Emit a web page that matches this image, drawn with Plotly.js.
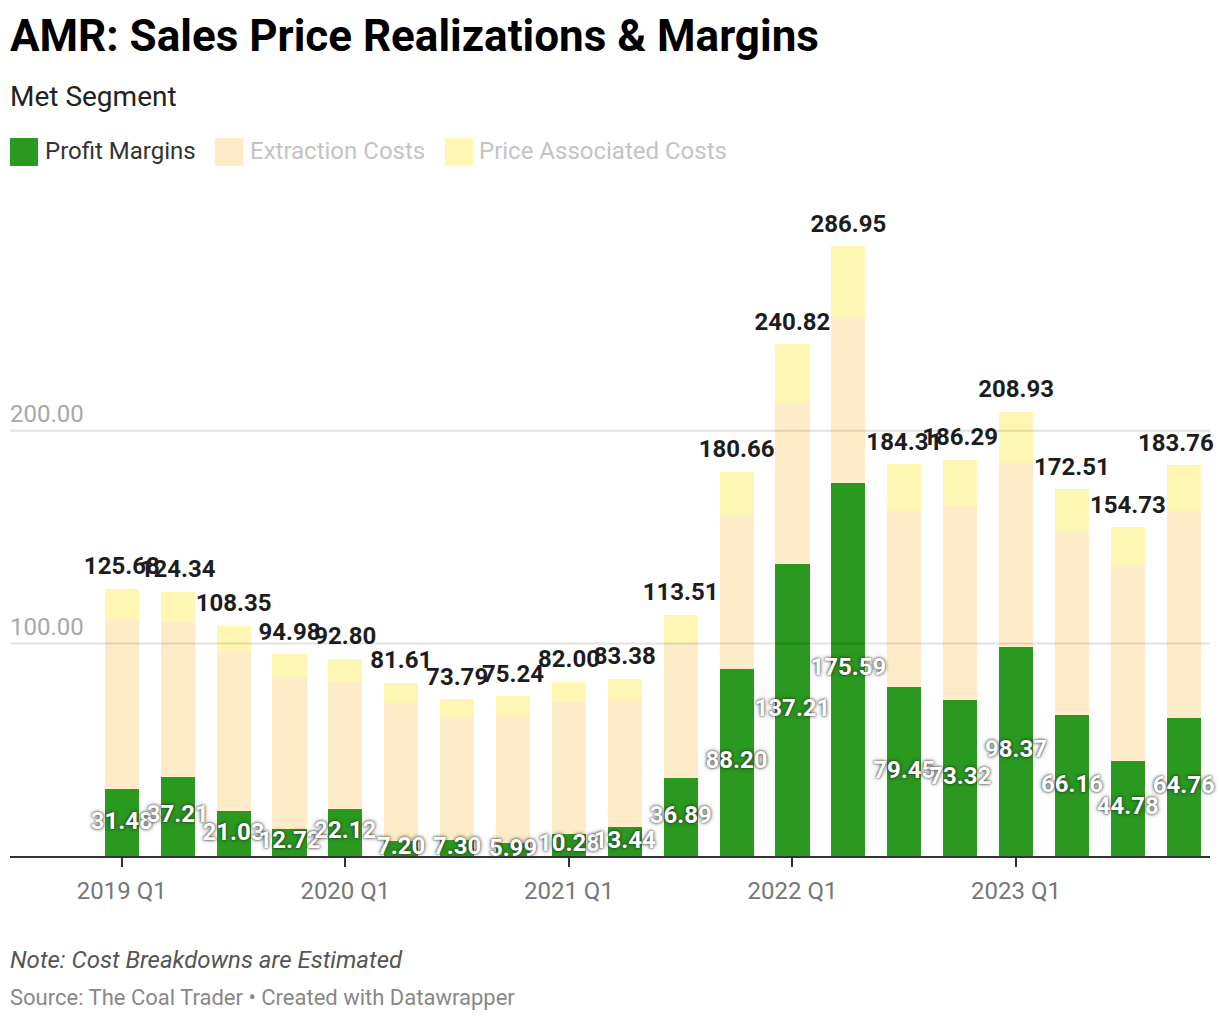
<!DOCTYPE html>
<html>
<head>
<meta charset="utf-8">
<script src="https://cdn.plot.ly/plotly-3.0.1.min.js"></script>
<style>
  html, body { margin: 0; padding: 0; background: #ffffff; }
  #chart { width: 1220px; height: 1020px; }
</style>
</head>
<body>
<div id="chart"></div>
<script>
// ---- Data ----
const quarters = [
  "2019 Q1","2019 Q2","2019 Q3","2019 Q4",
  "2020 Q1","2020 Q2","2020 Q3","2020 Q4",
  "2021 Q1","2021 Q2","2021 Q3","2021 Q4",
  "2022 Q1","2022 Q2","2022 Q3","2022 Q4",
  "2023 Q1","2023 Q2","2023 Q3","2023 Q4"
];
const profitMargins = [31.48, 37.21, 21.03, 12.72, 22.12, 7.20, 7.30, 5.99, 10.28, 13.44,
                       36.89, 88.20, 137.21, 175.59, 79.45, 73.32, 98.37, 66.16, 44.78, 64.76];
const extractionCosts = [79.52, 73.09, 74.97, 71.38, 59.78, 64.80, 58.00, 60.31, 62.22, 60.46,
                         63.31, 71.70, 75.79, 77.91, 83.05, 91.28, 86.33, 86.44, 92.12, 97.44];
const priceAssociatedCosts = [14.68, 14.04, 12.35, 10.88, 10.90, 9.61, 8.49, 8.94, 9.50, 9.48,
                              13.31, 20.76, 27.82, 33.45, 21.81, 21.69, 24.23, 19.91, 17.83, 21.56];
const totals = [125.68, 124.34, 108.35, 94.98, 92.80, 81.61, 73.79, 75.24, 82.00, 83.38,
                113.51, 180.66, 240.82, 286.95, 184.31, 186.29, 208.93, 172.51, 154.73, 183.76];
const xTickLabels = ["2019 Q1","2020 Q1","2021 Q1","2022 Q1","2023 Q1"];
const yTickValues = [100, 200];
const yTickLabels = ["100.00", "200.00"];
const seriesNames = ["Profit Margins", "Extraction Costs", "Price Associated Costs"];

// ---- Styles ----
const GREEN = "#2a991f";
const PEACH = "#feebc7";
const YELLOW = "#fef7b3";
const FONT = "Roboto, 'Noto Sans', sans-serif";

// Layout geometry (pixels)
const W = 1220, H = 1020;
const M = { l: 10, r: 10, t: 197, b: 164 };
const plotW = W - M.l - M.r, plotH = H - M.t - M.b;
const px2x = px => (px - M.l) / plotW;
const py2y = py => (H - M.b - py) / plotH;

const fmt = v => v.toFixed(2);
const last = totals.length - 1;
// the last total label is drawn as an annotation nudged left so it stays inside the frame
const totalText = totals.map((v, i) => i === last ? "" : fmt(v));
const TOTAL_FONT = { family: FONT, size: 24, color: "#1d1d1d", weight: 700 };

const traces = [
  {
    type: "bar", name: seriesNames[0], x: quarters, y: profitMargins,
    marker: { color: GREEN, line: { width: 0 } }, showlegend: false, hoverinfo: "skip"
  },
  {
    type: "bar", name: seriesNames[1], x: quarters, y: extractionCosts,
    marker: { color: PEACH, line: { width: 0 } }, showlegend: false, hoverinfo: "skip"
  },
  {
    type: "bar", name: seriesNames[2], x: quarters, y: priceAssociatedCosts,
    marker: { color: YELLOW, line: { width: 0 } }, showlegend: false, hoverinfo: "skip"
  },
  // total labels
  {
    type: "scatter", mode: "markers+text", x: quarters, y: totals,
    marker: { size: 12, color: "rgba(0,0,0,0)" },
    text: totalText, textposition: "top center",
    textfont: TOTAL_FONT,
    showlegend: false, hoverinfo: "skip", cliponaxis: false
  },
  // profit labels (centered in green segment)
  {
    type: "scatter", mode: "text", x: quarters, y: profitMargins.map(v => v / 2),
    text: profitMargins.map(fmt), textposition: "middle center",
    textfont: { family: FONT, size: 24, color: "#ffffff", weight: 700,
                shadow: "0px 0px 2px rgba(40,40,40,0.9), 0px 0px 4px rgba(40,40,40,0.7)" },
    showlegend: false, hoverinfo: "skip", cliponaxis: false
  }
];

// Legend (drawn manually to match the square swatches)
const legendItems = [
  { sw: 10, tx: 43, color: GREEN, tc: "#333333" },
  { sw: 215, tx: 248, color: PEACH, tc: "#c4c4c4" },
  { sw: 445, tx: 477, color: YELLOW, tc: "#c4c4c4" }
];
const shapes = legendItems.map(it => ({
  type: "rect", xref: "paper", yref: "paper",
  x0: px2x(it.sw), x1: px2x(it.sw + 28), y0: py2y(166), y1: py2y(138),
  fillcolor: it.color, line: { width: 0 }
}));
// gridlines drawn above the bars, as in the reference
yTickValues.forEach(v => shapes.push({
  type: "line", xref: "paper", yref: "y", x0: 0, x1: 1, y0: v, y1: v,
  layer: "above", line: { color: "rgba(0,0,0,0.11)", width: 2 }
}));

const annotations = [
  { text: "<b>AMR: Sales Price Realizations & Margins</b>", x: px2x(8), y: py2y(36),
    font: { family: FONT, size: 44, color: "#000000" } },
  { text: "Met Segment", x: px2x(8), y: py2y(97),
    font: { family: FONT, size: 28, color: "#222222" } },
  ...legendItems.map((it, i) => ({
    text: seriesNames[i], x: px2x(it.tx), y: py2y(151),
    font: { family: FONT, size: 24, color: it.tc }
  })),
  { text: "<i>Note: Cost Breakdowns are Estimated</i>", x: px2x(8), y: py2y(960),
    font: { family: FONT, size: 24, color: "#555555" } },
  { text: "Source: The Coal Trader • Created with Datawrapper", x: px2x(8), y: py2y(997),
    font: { family: FONT, size: 22, color: "#888888" } }
].map(a => Object.assign({ xref: "paper", yref: "paper", xanchor: "left", yanchor: "middle",
                           showarrow: false, align: "left" }, a));

annotations.push({
  xref: "x", yref: "y", x: quarters[last], y: totals[last],
  text: "<b>" + fmt(totals[last]) + "</b>", font: TOTAL_FONT,
  xanchor: "center", yanchor: "middle", xshift: -8, yshift: 22,
  showarrow: false
});

const layout = {
  width: W, height: H,
  margin: M,
  paper_bgcolor: "#ffffff", plot_bgcolor: "#ffffff",
  font: { family: FONT },
  barmode: "stack",
  bargap: 0.39,
  showlegend: false,
  hovermode: false,
  xaxis: {
    type: "category",
    range: [-2.0, 19.47],
    tickmode: "array", tickvals: xTickLabels, ticktext: xTickLabels,
    ticks: "outside", ticklen: 9, tickwidth: 2, tickcolor: "#333333",
    ticklabelstandoff: 3,
    showline: true, linecolor: "#333333", linewidth: 2,
    showgrid: false, zeroline: false,
    tickfont: { family: FONT, size: 24, color: "#777777" },
    fixedrange: true
  },
  yaxis: {
    range: [0, 310],
    tickmode: "array", tickvals: yTickValues, ticktext: yTickLabels,
    ticklabelposition: "inside top",
    ticklabelstandoff: -3,
    showgrid: false,
    zeroline: false, showline: false, ticks: "",
    tickfont: { family: FONT, size: 24, color: "#a8a8a8" },
    fixedrange: true
  },
  shapes: shapes,
  annotations: annotations
};

Plotly.newPlot("chart", traces, layout, { displayModeBar: false, staticPlot: true });
</script>
</body>
</html>
